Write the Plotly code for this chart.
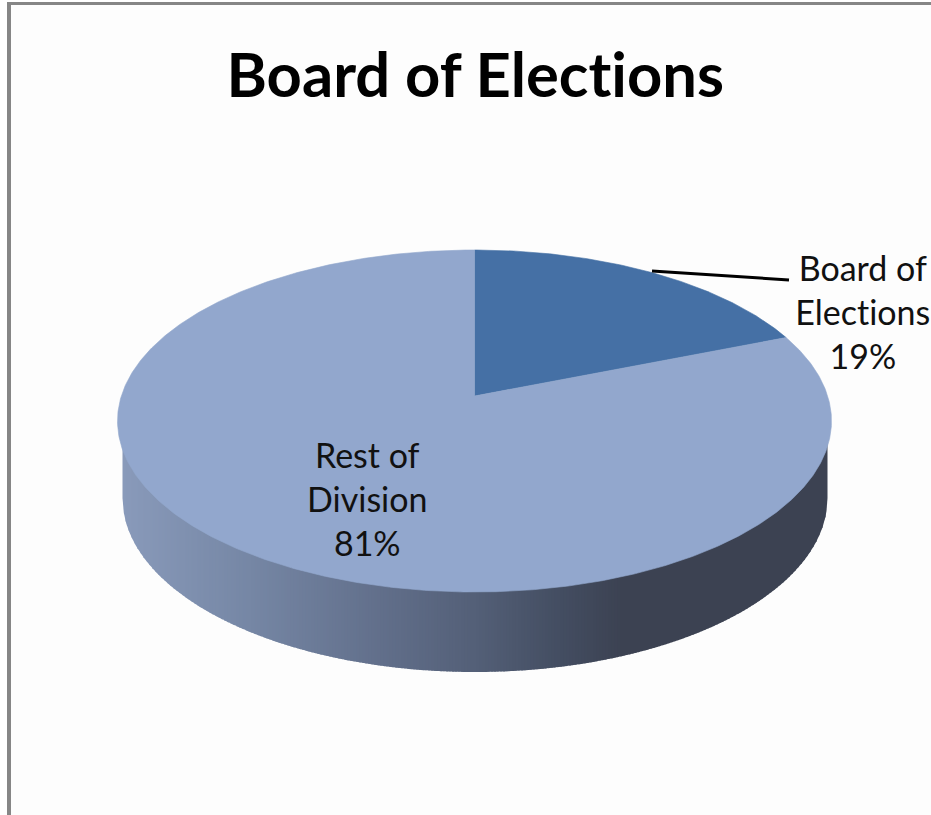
import numpy as np
import plotly.graph_objects as go

# --- data ---
slice_names = ["Board of<br>Elections", "Rest of<br>Division"]
slice_shares = [19, 81]
slice_colors = ["#4570a5", "#92a7cd"]
title_text = "Board of Elections"

# --- projection of the tilted disc onto the page axes ---
APEX_X, APEX_Y = 474.5, 396.0
FAR, NEAR = 146.0, 196.0
K = (NEAR - FAR) / (NEAR + FAR)
B = FAR * (1 + K)
A = 357.0 * np.sqrt(1 - K * K)


def project(theta):
    u, v = np.sin(theta), np.cos(theta)
    w = 1 + K * v
    return APEX_X + A * u / w, APEX_Y - B * v / w


fig = go.Figure()

# Side wall: vertical strips with a horizontal shading ramp
stop_x = [118, 250, 400, 475, 560, 625, 835]
stop_r = [138, 118, 95, 84, 68, 60, 60]
stop_g = [155, 135, 108, 96, 78, 66, 66]
stop_b = [187, 165, 135, 120, 98, 82, 82]
BOT_CX, BOT_CY, BOT_RX, BOT_RY = 475.0, 498.0, 352.5, 174.0
TOP_CY = 421.0
STEP = 3
for x0 in np.arange(BOT_CX - BOT_RX, BOT_CX + BOT_RX, STEP):
    x1 = min(x0 + STEP + 1, BOT_CX + BOT_RX)
    xs = np.linspace(x0, x1, 4)
    ys = BOT_CY + BOT_RY * np.sqrt(np.clip(1 - ((xs - BOT_CX) / BOT_RX) ** 2, 0, 1))
    mid = x0 + STEP / 2
    col = "rgb(%d,%d,%d)" % (
        np.interp(mid, stop_x, stop_r),
        np.interp(mid, stop_x, stop_g),
        np.interp(mid, stop_x, stop_b),
    )
    fig.add_trace(go.Scatter(
        x=[x0, *xs, x1, x0], y=[TOP_CY, *ys, TOP_CY, TOP_CY],
        mode="lines", fill="toself", fillcolor=col, line=dict(width=0),
        hoverinfo="skip", showlegend=False,
    ))

# Pie top: slices computed from the shares
total = sum(slice_shares)
start = 0.0
for name, share, color in zip(slice_names, slice_shares, slice_colors):
    sweep = 2 * np.pi * share / total
    t = np.linspace(start, start + sweep, max(int(share * 8), 24))
    px, py = project(t)
    fig.add_trace(go.Scatter(
        x=[APEX_X, *px, APEX_X], y=[APEX_Y, *py, APEX_Y],
        mode="lines", fill="toself", fillcolor=color, line=dict(width=0.6, color=color),
        name=name.replace("<br>", " "), hoverinfo="name", showlegend=False,
    ))
    start += sweep

# Leader line
fig.add_trace(go.Scatter(
    x=[652, 789], y=[271, 280], mode="lines",
    line=dict(color="#000000", width=3), hoverinfo="skip", showlegend=False,
))

FONT = "Lato"
annotations = [
    dict(x=475, y=73, text=f"<b>{title_text}</b>", font=dict(family=FONT, size=61.5, color="#000000")),
    dict(x=863, y=311, text=f"{slice_names[0]}<br>{slice_shares[0]}%", font=dict(family=FONT, size=34, color="#111111")),
    dict(x=367, y=498, text=f"{slice_names[1]}<br>{slice_shares[1]}%", font=dict(family=FONT, size=34, color="#111111")),
]
for a in annotations:
    a.update(xref="x", yref="y", showarrow=False, xanchor="center", yanchor="middle")

frame = "#868686"
shapes = [
    dict(type="rect", layer="below", x0=7, x1=931, y0=2, y1=815, fillcolor="#fdfdfd", line=dict(width=0)),
    dict(type="rect", layer="below", x0=7, x1=931, y0=2, y1=5, fillcolor=frame, line=dict(width=0)),
    dict(type="rect", layer="below", x0=7, x1=11, y0=2, y1=815, fillcolor=frame, line=dict(width=0)),
]

fig.update_layout(
    width=931, height=815, margin=dict(l=0, r=0, t=0, b=0),
    paper_bgcolor="#ffffff", plot_bgcolor="rgba(0,0,0,0)",
    xaxis=dict(range=[0, 931], visible=False, fixedrange=True),
    yaxis=dict(range=[815, 0], visible=False, fixedrange=True),
    annotations=annotations, shapes=shapes, showlegend=False,
)
fig.write_html("out.html", config={"displayModeBar": False},
               post_script="document.body.style.margin='0';document.body.style.overflow='hidden';"
                           "var s=document.createElement('style');"
                           "s.textContent='text{font-variant-ligatures:none !important;}';"
                           "document.head.appendChild(s);")
